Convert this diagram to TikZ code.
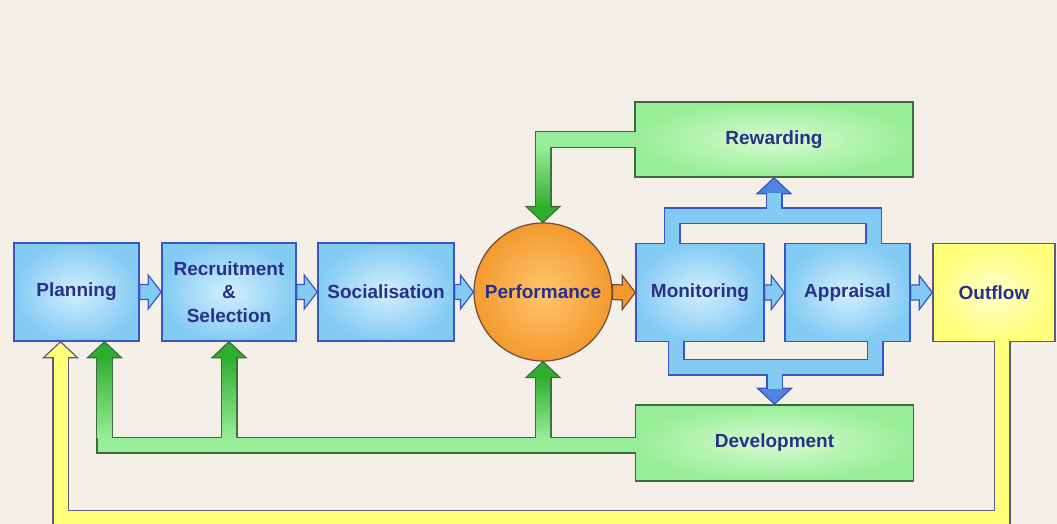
\documentclass[tikz,border=0pt]{standalone}
\usepackage{fontspec}
\setmainfont{Liberation Sans}
\usetikzlibrary{calc}

\definecolor{bgcol}{HTML}{F4F0E8}
\definecolor{txtblue}{HTML}{28308A}
\definecolor{boxblue}{HTML}{84CBF4}
\definecolor{boxblueC}{HTML}{D2EFFC}
\definecolor{edgeblue}{HTML}{3A55C4}
\definecolor{headblue}{HTML}{4C86E0}
\definecolor{boxgreen}{HTML}{98EE98}
\definecolor{boxgreenC}{HTML}{D8FBD2}
\definecolor{edgegreen}{HTML}{3D6B3D}
\definecolor{darkgreen}{HTML}{2EAD2E}
\definecolor{boxyellow}{HTML}{FFFF7A}
\definecolor{boxyellowC}{HTML}{FFFFCC}
\definecolor{edgegrey}{HTML}{5C5A7C}
\definecolor{perforange}{HTML}{F39A2E}
\definecolor{perforangeC}{HTML}{FFC670}
\definecolor{edgebrown}{HTML}{6E4B3C}

% flat block arrow pointing right, from #2 to #3
\newcommand\hblock[3]{\draw[#1] ([yshift=7.5pt]#2) -- ([xshift=-13pt,yshift=7.5pt]#3) -- ([xshift=-13pt,yshift=17pt]#3) -- (#3) -- ([xshift=-13pt,yshift=-17pt]#3) -- ([xshift=-13pt,yshift=-7.5pt]#3) -- ([yshift=-7.5pt]#2) -- cycle;}
\newcommand\uphead[2]{\draw[#1] (#2) -- ++(17,16) -- ++(-34,0) -- cycle;}
\newcommand\downhead[2]{\draw[#1] (#2) -- ++(17,-16) -- ++(-34,0) -- cycle;}

\begin{document}
\begin{tikzpicture}[x=1pt,y=-1pt,
  every node/.style={font=\fontsize{19}{23.5}\selectfont\bfseries, text=txtblue, align=center, inner sep=0pt},
  bluebox/.style={rectangle, draw=edgeblue, line width=1.5pt, inner color=boxblueC, outer color=boxblue, minimum height=98pt},
  greenbox/.style={rectangle, draw=edgegreen, line width=1.5pt, inner color=boxgreenC, outer color=boxgreen, minimum width=278pt, minimum height=75pt},
  yellowbox/.style={rectangle, draw=edgegrey, line width=1.5pt, inner color=boxyellowC, outer color=boxyellow, minimum height=98pt},
  perfball/.style={circle, draw=edgebrown, line width=1.2pt, inner color=perforangeC, outer color=perforange, minimum size=138pt},
  gedge/.style={edgegreen, line width=17pt},
  gfill/.style={boxgreen, line width=14pt},
  yedge/.style={edgegrey, line width=17pt},
  yfill/.style={boxyellow, line width=14pt},
  bedge/.style={edgeblue, line width=17pt},
  bfill/.style={boxblue, line width=14pt},
  ghead/.style={draw=edgegreen, line width=1.2pt, fill=darkgreen},
  yhead/.style={draw=edgegrey, line width=1.2pt, fill=boxyellow},
  bhead/.style={draw=edgeblue, line width=1.2pt, fill=headblue},
  barrow/.style={draw=edgeblue, line width=1.2pt, fill=boxblue},
  oarrow/.style={draw=edgebrown, line width=1.2pt, fill=perforange}]

\fill[bgcol] (0,0) rectangle (1057,524);
\useasboundingbox (0,0) rectangle (1057,524);

\node[bluebox, minimum width=125pt] (plan) at (76.5,292) {Planning};
\node[bluebox, minimum width=134pt] (recr) at (229,292) {Recruitment\\\&\\Selection};
\node[bluebox, minimum width=136pt] (soc) at (386,292) {Socialisation};
\node[perfball] (perf) at (543,292) {Performance};
\node[bluebox, minimum width=128pt] (mon) at (700,292.5) {Monitoring};
\node[bluebox, minimum width=125pt] (appr) at (847.5,292.5) {Appraisal};
\node[yellowbox, minimum width=122pt] (outf) at (994,292.5) {Outflow};
\node[greenbox] (rew) at (774,139.5) {Rewarding};
\node[greenbox, minimum height=76pt] (dev) at (774.5,443) {Development};

\coordinate (gleft) at ([xshift=28pt]plan.south);
\coordinate (yleft) at ([xshift=-16pt]plan.south);
\coordinate (yright) at ([xshift=8pt]outf.south);
\coordinate (gmid) at ([yshift=-2pt]dev.west);

% outlines of the wide bands
\draw[gedge] ([yshift=-15pt]gleft) |- (gmid);
\draw[gedge] ([yshift=-15pt]recr.south) -- (recr.south |- gmid);
\draw[gedge] ([yshift=-15pt]perf.south) -- (perf.south |- gmid);
\draw[gedge] (rew.west) -| ([yshift=15pt]perf.north);
\draw[yedge] (yright) -- ++(0,176) -| ([yshift=-15pt]yleft);
\draw[bedge] ([xshift=-28pt]mon.north) -- ++(0,-27) -| ([xshift=26pt]appr.north);
\draw[bedge] ([yshift=-15pt]rew.south) -- ++(0,23);
\draw[bedge] ([xshift=-24pt]mon.south) -- ++(0,25) -| ([xshift=27.5pt]appr.south);
\draw[bedge] ([yshift=15pt]dev.north) -- ++(0,-23);

% heads
\uphead{ghead}{gleft}
\uphead{ghead}{recr.south}
\uphead{ghead}{perf.south}
\downhead{ghead}{perf.north}
\uphead{yhead}{yleft}
\uphead{bhead}{rew.south}
\downhead{bhead}{dev.north}

% insides of the bands
\draw[gfill] ([yshift=-15pt]gleft) |- ([xshift=3pt]gmid);
\draw[gfill] ([yshift=-15pt]recr.south) -- (recr.south |- gmid);
\draw[gfill] ([yshift=-15pt]perf.south) -- (perf.south |- gmid);
\draw[gfill] ([xshift=3pt]rew.west) -| ([yshift=15pt]perf.north);
\draw[yfill] ([yshift=3pt]yright) -- ++(0,179) -| ([yshift=-15pt]yleft);
\draw[bfill] ([xshift=-28pt,yshift=-3pt]mon.north) -- ++(0,-30) -| ([xshift=26pt,yshift=-3pt]appr.north);
\draw[bfill] ([yshift=-15pt]rew.south) -- ++(0,23);
\draw[bfill] ([xshift=-24pt,yshift=3pt]mon.south) -- ++(0,28) -| ([xshift=27.5pt,yshift=3pt]appr.south);
\draw[bfill] ([yshift=15pt]dev.north) -- ++(0,-23);

% darker green towards the heads
\shade[top color=darkgreen, bottom color=boxgreen] ($(gleft)+(-7,15)$) rectangle ($(gleft |- gmid)+(7,-7)$);
\shade[top color=darkgreen, bottom color=boxgreen] ($(recr.south)+(-7,15)$) rectangle ($(recr.south |- gmid)+(7,-7)$);
\shade[top color=darkgreen, bottom color=boxgreen] ($(perf.south)+(-7,15)$) rectangle ($(perf.south |- gmid)+(7,-7)$);
\shade[top color=boxgreen, bottom color=darkgreen] ($(perf.north |- rew.west)+(-7,7)$) rectangle ($(perf.north)+(7,-15)$);

% small arrows between the stages
\hblock{barrow}{plan.east}{recr.west}
\hblock{barrow}{recr.east}{soc.west}
\hblock{barrow}{soc.east}{perf.west}
\hblock{oarrow}{perf.east}{mon.west}
\hblock{barrow}{mon.east}{appr.west}
\hblock{barrow}{appr.east}{outf.west}

\end{tikzpicture}
\end{document}
